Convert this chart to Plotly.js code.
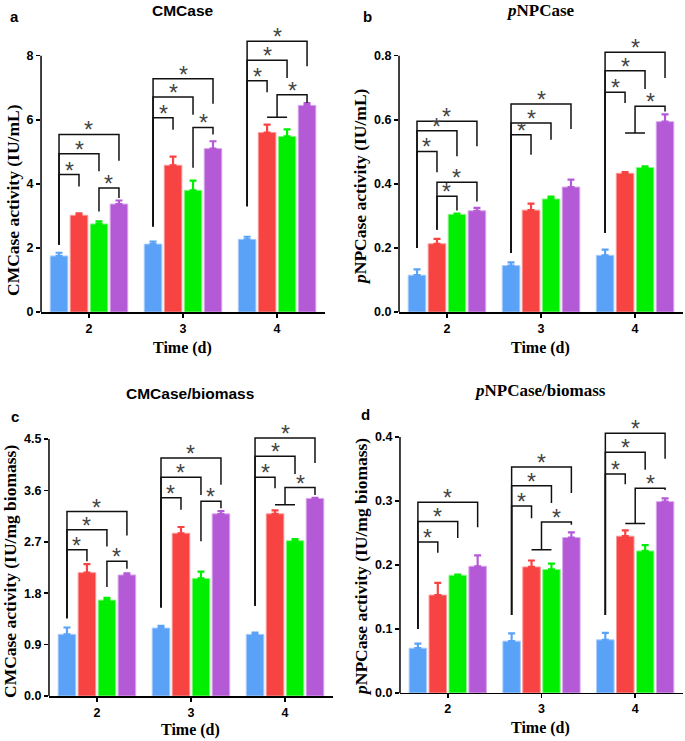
<!DOCTYPE html>
<html>
<head>
<meta charset="utf-8">
<script src="https://cdn.plot.ly/plotly-3.0.1.min.js"></script>
<style>
  html, body { margin: 0; padding: 0; background: #fff; }
  #chart { width: 685px; height: 741px; }
</style>
</head>
<body>
<div id="chart"></div>
<script>
// x categories (days) and the four treatment series (blue, red, green, purple)
const days = [2, 3, 4];
const seriesNames = ['Group 1', 'Group 2', 'Group 3', 'Group 4'];
const colors = ['#5aa2f8', '#f84343', '#00ee00', '#b55ad6'];
const edges = ['#a9cdfb', '#fb9a9a', '#8cf78c', '#d9a9eb'];

// a  CMCase (IU/mL): one row per series, one value per day
const cmcMean = [[1.75, 2.12, 2.27], [3.02, 4.58, 5.60], [2.75, 3.80, 5.48], [3.37, 5.10, 6.45]];
const cmcErr  = [[0.10, 0.08, 0.08], [0.06, 0.27, 0.25], [0.08, 0.30, 0.22], [0.11, 0.23, 0.07]];

// b  pNPCase (IU/mL)
const pnpMean = [[0.115, 0.145, 0.177], [0.213, 0.318, 0.433], [0.305, 0.353, 0.451], [0.316, 0.390, 0.594]];
const pnpErr  = [[0.018, 0.010, 0.018], [0.015, 0.020, 0.004], [0.002, 0.007, 0.004], [0.009, 0.023, 0.023]];

// c  CMCase/biomass (IU/mg biomass)
const cmcBioMean = [[1.08, 1.19, 1.08], [2.16, 2.85, 3.19], [1.68, 2.06, 2.72], [2.12, 3.19, 3.46]];
const cmcBioErr  = [[0.12, 0.04, 0.03], [0.15, 0.11, 0.06], [0.04, 0.12, 0.03], [0.03, 0.05, 0.01]];

// d  pNPCase/biomass (IU/mg biomass)
const pnpBioMean = [[0.070, 0.081, 0.083], [0.153, 0.197, 0.245], [0.184, 0.193, 0.222], [0.198, 0.243, 0.299]];
const pnpBioErr  = [[0.007, 0.012, 0.011], [0.019, 0.010, 0.009], [0.001, 0.009, 0.009], [0.017, 0.008, 0.005]];

// significance brackets: [day, bar a, bar b, bracket y, foot y at a, foot y at b]
// bar a = 1.5 means bars 1 and 2 joined by a base line at the "foot a" height
const cmcBrackets = [
  [2, 0, 1, 4.29, 2.10, 3.92], [2, 0, 2, 4.94, 2.10, 4.39], [2, 0, 3, 5.54, 2.10, 4.72], [2, 2, 3, 3.87, 3.14, 3.56],
  [3, 0, 1, 6.06, 2.67, 5.69], [3, 0, 2, 6.71, 2.67, 6.16], [3, 0, 3, 7.28, 2.67, 6.50], [3, 2, 3, 5.76, 4.50, 5.54],
  [4, 0, 1, 7.22, 3.30, 6.86], [4, 0, 2, 7.86, 3.30, 7.30], [4, 0, 3, 8.45, 3.30, 7.67], [4, 1.5, 3, 6.78, 6.08, 6.52]
];
const pnpBrackets = [
  [2, 0, 1, 0.501, 0.200, 0.436], [2, 0, 2, 0.566, 0.200, 0.486], [2, 0, 3, 0.595, 0.200, 0.517],
  [2, 1, 2, 0.361, 0.257, 0.317], [2, 1, 3, 0.405, 0.257, 0.345],
  [3, 0, 1, 0.553, 0.184, 0.491], [3, 0, 2, 0.590, 0.184, 0.538], [3, 0, 3, 0.649, 0.184, 0.571],
  [4, 0, 1, 0.686, 0.247, 0.652], [4, 0, 2, 0.753, 0.247, 0.696], [4, 0, 3, 0.811, 0.247, 0.730], [4, 1.5, 3, 0.642, 0.559, 0.626]
];
const cmcBioBrackets = [
  [2, 0, 1, 2.56, 1.36, 2.36], [2, 0, 2, 2.91, 1.36, 2.62], [2, 0, 3, 3.23, 1.36, 2.81], [2, 2, 3, 2.36, 1.91, 2.23],
  [3, 0, 1, 3.47, 1.55, 3.26], [3, 0, 2, 3.83, 1.55, 3.52], [3, 0, 3, 4.17, 1.55, 3.70], [3, 2, 3, 3.41, 2.71, 3.29],
  [4, 0, 1, 3.83, 1.58, 3.64], [4, 0, 2, 4.20, 1.58, 3.89], [4, 0, 3, 4.52, 1.58, 4.08], [4, 1.5, 3, 3.65, 3.35, 3.52]
];
const pnpBioBrackets = [
  [2, 0, 1, 0.236, 0.100, 0.219], [2, 0, 2, 0.268, 0.100, 0.242], [2, 0, 3, 0.298, 0.100, 0.259],
  [3, 0, 1, 0.292, 0.122, 0.273], [3, 0, 2, 0.324, 0.122, 0.297], [3, 0, 3, 0.353, 0.122, 0.3125], [3, 1.5, 3, 0.267, 0.224, 0.263],
  [4, 0, 1, 0.342, 0.122, 0.326], [4, 0, 2, 0.376, 0.122, 0.349], [4, 0, 3, 0.406, 0.122, 0.366], [4, 1.5, 3, 0.320, 0.265, 0.317]
];

const BARGAP = 0.15;
const slot = (1 - BARGAP) / 4;
const barX = (day, i) => day + (i - 1.5) * slot;

const sans = 'Liberation Sans, Arial, sans-serif';
const serif = 'Liberation Serif, Times New Roman, serif';

const panels = [
  { id: '',  mean: cmcMean,    err: cmcErr,    brackets: cmcBrackets,
    xdom: [0.0599, 0.4745], ydom: [0.5789, 0.9664], top: 8.96, axisMax: 8, dtick: 2, fmt: 'd',
    letter: 'a', letterXY: [14, 17], title: 'CMCase', titleFont: sans, titleSize: 15.5, titleXY: [183, 10],
    ytitle: 'CMCase activity (IU/mL)', ytitleXY: [13, 200], xtitleXY: [183, 348] },
  { id: '2', mean: pnpMean,    err: pnpErr,    brackets: pnpBrackets,
    xdom: [0.5825, 0.9971], ydom: [0.5789, 0.9664], top: 0.896, axisMax: 0.8, dtick: 0.2, fmt: '.1f',
    letter: 'b', letterXY: [367, 17], title: '<i>p</i>NPCase', titleFont: serif, titleSize: 17, titleXY: [540, 10],
    ytitle: '<i>p</i>NPCase activity (IU/mL)', ytitleXY: [360, 187], xtitleXY: [540, 348] },
  { id: '3', mean: cmcBioMean, err: cmcBioErr, brackets: cmcBioBrackets,
    xdom: [0.0715, 0.4861], ydom: [0.0607, 0.4491], top: 5.04, axisMax: 4.5, dtick: 0.9, fmt: '.1f',
    letter: 'c', letterXY: [15, 416], title: 'CMCase/biomass', titleFont: sans, titleSize: 15.5, titleXY: [190, 393],
    ytitle: 'CMCase activity (IU/mg biomass)', ytitleXY: [10, 572], xtitleXY: [190, 730] },
  { id: '4', mean: pnpBioMean, err: pnpBioErr, brackets: pnpBioBrackets,
    xdom: [0.5839, 0.9971], ydom: [0.0648, 0.4517], top: 0.448, axisMax: 0.4, dtick: 0.1, fmt: '.1f',
    letter: 'd', letterXY: [365, 415], title: '<i>p</i>NPCase/biomass', titleFont: serif, titleSize: 17, titleXY: [540, 390],
    ytitle: '<i>p</i>NPCase activity (IU/mg biomass)', ytitleXY: [361, 567], xtitleXY: [540, 728] }
];

const W = 685, H = 741;
const px = (x) => x / W;
const py = (y) => 1 - y / H;

const traces = [];
const shapes = [];
const annotations = [];
const layout = {
  width: W, height: H,
  margin: { l: 0, r: 0, t: 0, b: 0 },
  paper_bgcolor: '#fff', plot_bgcolor: '#fff',
  barmode: 'group', bargap: BARGAP, bargroupgap: 0.12,
  showlegend: false,
  font: { family: sans, color: '#000' }
};

panels.forEach(p => {
  const xa = 'x' + p.id, ya = 'y' + p.id;

  p.mean.forEach((vals, s) => {
    traces.push({
      type: 'bar', name: seriesNames[s], x: days, y: vals,
      xaxis: xa, yaxis: ya,
      marker: { color: colors[s], line: { color: edges[s], width: 1 } },
      error_y: { type: 'data', symmetric: false, array: p.err[s], arrayminus: vals.map(() => 0),
                 color: colors[s], thickness: 2.2, width: 3.5 }
    });
  });

  const tickvals = [];
  for (let v = 0; v <= p.axisMax + 1e-9; v += p.dtick) tickvals.push(+v.toFixed(3));

  layout['xaxis' + p.id] = {
    domain: p.xdom, anchor: ya, range: [1.49, 4.51],
    tickvals: days, ticks: 'outside', ticklen: 4, tickwidth: 1.5, tickcolor: '#000',
    showline: true, linecolor: '#000', linewidth: 1.5, showgrid: false, zeroline: false,
    tickfont: { family: sans, size: 12.5, weight: 'bold', color: '#000' }
  };
  layout['yaxis' + p.id] = {
    domain: p.ydom, anchor: xa, range: [0, p.top],
    tickvals: tickvals, tickformat: p.fmt, ticks: 'outside', ticklen: 4, tickwidth: 1.5, tickcolor: '#000',
    showline: false, showgrid: false, zeroline: false,
    tickfont: { family: sans, size: 12.5, weight: 'bold', color: '#000' }
  };

  // y axis line only up to the last tick
  const yTopFrac = p.ydom[0] + (p.axisMax / p.top) * (p.ydom[1] - p.ydom[0]);
  shapes.push({ type: 'line', xref: 'paper', yref: 'paper', x0: p.xdom[0], x1: p.xdom[0],
                y0: p.ydom[0], y1: yTopFrac, line: { color: '#000', width: 1.5 } });

  // significance brackets and asterisks
  p.brackets.forEach(([day, a, b, y, footA, footB]) => {
    const xa0 = barX(day, a), xb0 = barX(day, b);
    let path = `M${xa0},${footA} L${xa0},${y} L${xb0},${y} L${xb0},${footB}`;
    if (a % 1 !== 0) {
      path += ` M${barX(day, Math.floor(a))},${footA} L${barX(day, Math.ceil(a))},${footA}`;
    }
    shapes.push({ type: 'path', xref: xa, yref: ya, path: path, line: { color: '#111', width: 1.5 } });
    annotations.push({ xref: xa, yref: ya, x: (xa0 + xb0) / 2, y: y, text: '*', showarrow: false,
                       yanchor: 'bottom', yshift: -11, font: { family: sans, size: 23, color: '#444' } });
  });

  // panel letter, title, axis titles
  annotations.push({ xref: 'paper', yref: 'paper', x: px(p.letterXY[0]), y: py(p.letterXY[1]), text: p.letter,
                     showarrow: false, xanchor: 'center', yanchor: 'middle',
                     font: { family: sans, size: 15, weight: 'bold', color: '#000' } });
  annotations.push({ xref: 'paper', yref: 'paper', x: px(p.titleXY[0]), y: py(p.titleXY[1]), text: p.title,
                     showarrow: false, xanchor: 'center', yanchor: 'middle',
                     font: { family: p.titleFont, size: p.titleSize, weight: 'bold', color: '#000' } });
  annotations.push({ xref: 'paper', yref: 'paper', x: px(p.ytitleXY[0]), y: py(p.ytitleXY[1]), text: p.ytitle,
                     showarrow: false, textangle: -90, xanchor: 'center', yanchor: 'middle',
                     font: { family: serif, size: 17.5, weight: 'bold', color: '#000' } });
  annotations.push({ xref: 'paper', yref: 'paper', x: px(p.xtitleXY[0]), y: py(p.xtitleXY[1]), text: 'Time (d)',
                     showarrow: false, xanchor: 'center', yanchor: 'middle',
                     font: { family: serif, size: 16, weight: 'bold', color: '#000' } });
});

layout.shapes = shapes;
layout.annotations = annotations;

Plotly.newPlot('chart', traces, layout, { displayModeBar: false, staticPlot: true });
</script>
</body>
</html>
